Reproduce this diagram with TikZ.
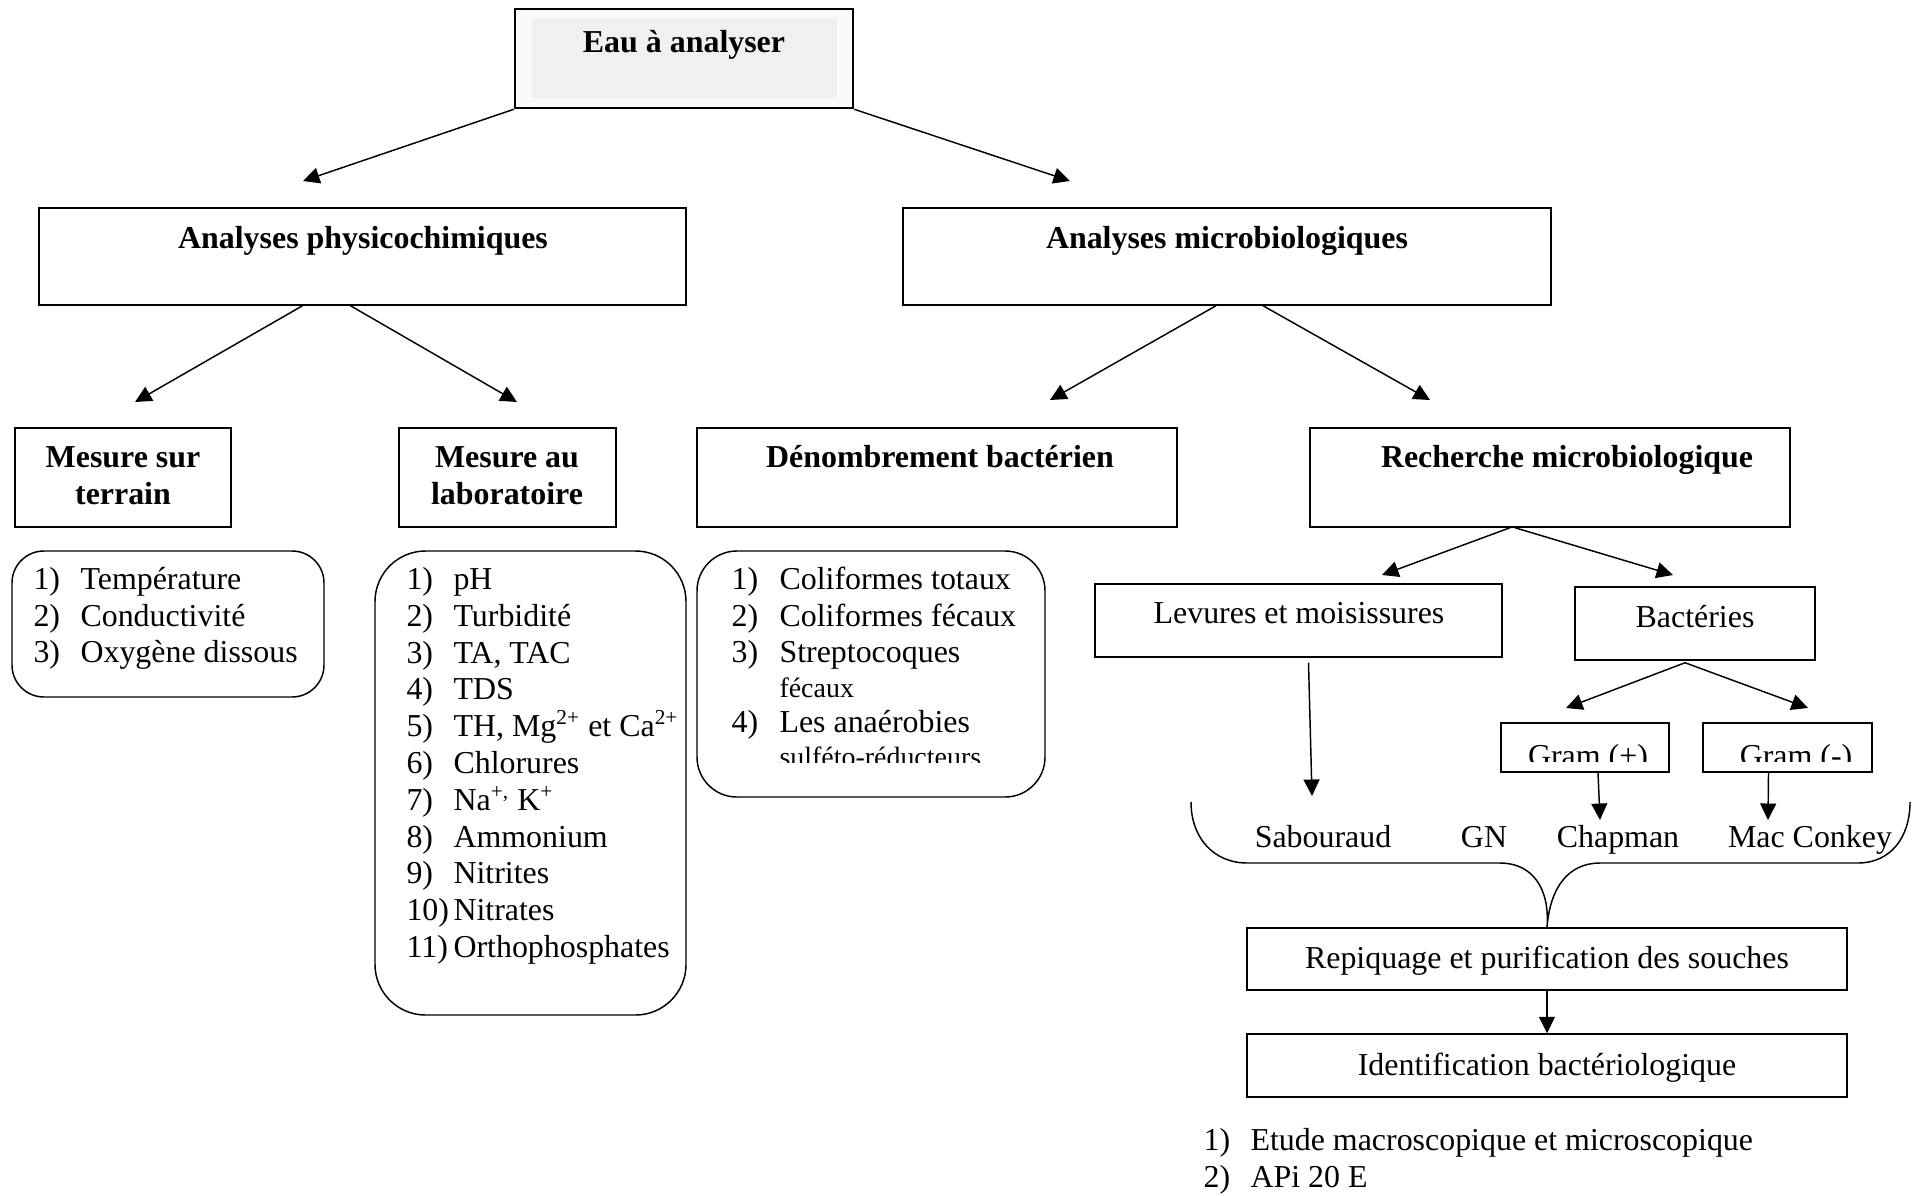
\documentclass[tikz,border=0pt]{standalone}
\usepackage{fontspec}
\setmainfont{Liberation Serif}
\usetikzlibrary{arrows.meta,fit}

\tikzset{
  box/.style={draw, line width=0.55pt, inner sep=0pt},
  listbox/.style={box, rounded corners=#1},
  head/.style={font=\bfseries, inner sep=0pt, anchor=base},
  txt/.style={inner sep=0pt, anchor=base},
  num/.style={inner sep=0pt, anchor=base west},
  arr/.style={line width=0.55pt, -{Triangle[length=6.2pt,width=6pt]}},
}

\begin{document}
\begin{tikzpicture}[x=0.376pt, y=-0.376pt]
            \useasboundingbox (0,0) rectangle (1915,1195);
            {\fontsize{12pt}{13.8pt}\selectfont

            % Drawing box Eau a analyser
            \node [box, line width=1pt, fill=black!2, fit={(515,9) (853,108)}] (eau) {};%
            \fill [black!6] (532,18) rectangle (837,98);%
            \node [head] (eautext) at (684,52) {Eau à analyser};%

            % Drawing boxes of the second row
            \node [box, fit={(39,208) (686,305)}] (physico) {};%
            \node [head] (physicotext) at (363,248) {Analyses physicochimiques};%
            \node [box, fit={(903,208) (1551,305)}] (micro) {};%
            \node [head] (microtext) at (1227,248) {Analyses microbiologiques};%

            % Drawing boxes of the third row
            \node [box, fit={(15,428) (231,527)}] (terrain) {};%
            \node [head] (terraintext) at (123,467) {Mesure sur};%
            \node [head] (terraintextb) at (123,504) {terrain};%
            \node [box, fit={(399,428) (616,527)}] (labo) {};%
            \node [head] (labotext) at (507,467) {Mesure au};%
            \node [head] (labotextb) at (507,504) {laboratoire};%
            \node [box, fit={(697,428) (1177,527)}] (denomb) {};%
            \node [head] (denombtext) at (940,467) {Dénombrement bactérien};%
            \node [box, fit={(1310,428) (1790,527)}] (recherche) {};%
            \node [head] (recherchetext) at (1567,467) {Recherche microbiologique};%

            % Drawing list Mesure sur terrain
            \node [listbox=12pt, fit={(12,551) (324,697)}] (listterrain) {};%
            \node [num] (terrain1n) at (33,589) {1)};%
            \node [num] (terrain1) at (80,589) {Température};%
            \node [num] (terrain2n) at (33,626) {2)};%
            \node [num] (terrain2) at (80,626) {Conductivité};%
            \node [num] (terrain3n) at (33,662) {3)};%
            \node [num] (terrain3) at (80,662) {Oxygène dissous};%

            % Drawing list Mesure au laboratoire
            \node [listbox=19pt, fit={(375,551) (686,1015)}] (listlabo) {};%
            \node [num] (labo1n) at (406,589) {1)};%
            \node [num] (labo1) at (453,589) {pH};%
            \node [num] (labo2n) at (406,626) {2)};%
            \node [num] (labo2) at (453,626) {Turbidité};%
            \node [num] (labo3n) at (406,663) {3)};%
            \node [num] (labo3) at (453,663) {TA, TAC};%
            \node [num] (labo4n) at (406,699) {4)};%
            \node [num] (labo4) at (453,699) {TDS};%
            \node [num] (labo5n) at (406,736) {5)};%
            \node [num] (labo5) at (453,736) {TH, Mg\textsuperscript{2+} et Ca\textsuperscript{2+}};%
            \node [num] (labo6n) at (406,773) {6)};%
            \node [num] (labo6) at (453,773) {Chlorures};%
            \node [num] (labo7n) at (406,810) {7)};%
            \node [num] (labo7) at (453,810) {Na\textsuperscript{+,} K\textsuperscript{+}};%
            \node [num] (labo8n) at (406,847) {8)};%
            \node [num] (labo8) at (453,847) {Ammonium};%
            \node [num] (labo9n) at (406,883) {9)};%
            \node [num] (labo9) at (453,883) {Nitrites};%
            \node [num] (labo10n) at (406,920) {10)};%
            \node [num] (labo10) at (453,920) {Nitrates};%
            \node [num] (labo11n) at (406,957) {11)};%
            \node [num] (labo11) at (453,957) {Orthophosphates};%

            % Drawing list Denombrement bacterien
            \node [listbox=15pt, fit={(697,551) (1045,797)}] (listdenomb) {};%
            \node [num] (denomb1n) at (731,589) {1)};%
            \node [num] (denomb1) at (779,589) {Coliformes totaux};%
            \node [num] (denomb2n) at (731,626) {2)};%
            \node [num] (denomb2) at (779,626) {Coliformes fécaux};%
            \node [num] (denomb3n) at (731,662) {3)};%
            \node [num] (denomb3) at (779,662) {Streptocoques};%
            \node [num, font=\fontsize{10.5pt}{12pt}\selectfont] (denomb3b) at (779,697) {fécaux};%
            \node [num] (denomb4n) at (731,732) {4)};%
            \node [num] (denomb4) at (779,732) {Les anaérobies};%
            \begin{scope}
            \clip (700,740) rectangle (1040,762);%
            \node [num, font=\fontsize{10.5pt}{12pt}\selectfont] (denomb4b) at (779,766) {sulféto-réducteurs};%
            \end{scope}

            % Drawing boxes of Recherche microbiologique
            \node [box, fit={(1095,584) (1502,657)}] (levures) {};%
            \node [txt] (levurestext) at (1299,623) {Levures et moisissures};%
            \node [box, fit={(1575,587) (1815,660)}] (bacteries) {};%
            \node [txt] (bacteriestext) at (1695,627) {Bactéries};%
            \node [box, fit={(1501,723) (1669,772)}] (gramplus) {};%
            \node [box, fit={(1703,723) (1872,772)}] (grammoins) {};%
            \begin{scope}
            \clip (1501,723) rectangle (1872,761);%
            \node [txt] (gramplustext) at (1588,766) {Gram (+)};%
            \node [txt] (grammoinstext) at (1796,766) {Gram (-)};%
            \end{scope}

            % Marking culture media
            \node [txt] (sab) at (1323,847) {Sabouraud};%
            \node [txt] (gn) at (1484,847) {GN};%
            \node [txt] (chapman) at (1618,847) {Chapman};%
            \node [txt] (macconkey) at (1810,847) {Mac Conkey};%

            % Drawing boxes of the last steps
            \node [box, fit={(1247,928) (1847,990)}] (repiquage) {};%
            \node [txt] (repiquagetext) at (1547,968) {Repiquage et purification des souches};%
            \node [box, fit={(1247,1034) (1847,1097)}] (identif) {};%
            \node [txt] (identiftext) at (1547,1075) {Identification bactériologique};%
            \node [num] (identif1n) at (1203,1150) {1)};%
            \node [num] (identif1) at (1250,1150) {Etude macroscopique et microscopique};%
            \node [num] (identif2n) at (1203,1187) {2)};%
            \node [num] (identif2) at (1250,1187) {APi 20 E};%

            % Marking arrow tips
            \coordinate (tophysico) at (303,181);%
            \coordinate (tomicro) at (1070,181);%
            \coordinate (toterrain) at (135,402);%
            \coordinate (tolabo) at (517,402);%
            \coordinate (todenomb) at (1050,400);%
            \coordinate (torecherche) at (1430,400);%
            \coordinate (tolevures) at (1382,575);%
            \coordinate (tobacteries) at (1673,575);%
            \coordinate (tosab) at (1312,796);%
            \coordinate (togramplus) at (1566,708);%
            \coordinate (togrammoins) at (1808,708);%
            \coordinate (tochapman) at (1600,820);%
            \coordinate (tomacconkey) at (1768,820);%

            % Drawing arrows
            \draw [arr] (eau.south west) -- (tophysico);%
            \draw [arr] (eau.south east) -- (tomicro);%
            \draw [arr] ([shift={(-60,0)}]physico.south) -- (toterrain);%
            \draw [arr] ([shift={(-12,0)}]physico.south) -- (tolabo);%
            \draw [arr] ([shift={(-11,0)}]micro.south) -- (todenomb);%
            \draw [arr] ([shift={(36,0)}]micro.south) -- (torecherche);%
            \draw [arr] ([shift={(-40,0)}]recherche.south) -- (tolevures);%
            \draw [arr] ([shift={(-35,0)}]recherche.south) -- (tobacteries);%
            \draw [arr] ([shift={(10,5)}]levures.south) -- (tosab);%
            \draw [arr] ([shift={(-10,2)}]bacteries.south) -- (togramplus);%
            \draw [arr] ([shift={(-10,2)}]bacteries.south) -- (togrammoins);%
            \draw [arr] ([shift={(13,0)}]gramplus.south) -- (tochapman);%
            \draw [arr] ([shift={(-19,0)}]grammoins.south) -- (tomacconkey);%
            \draw [arr] (repiquage.south) -- (identif.north);%

            % Drawing brace over the culture media
            \draw [line width=0.55pt] (1191,802) .. controls (1191,838) and (1214,863) .. (1247,863) -- (1500,863) .. controls (1532,863) and (1550,888) .. (repiquage.north) .. controls (1550,888) and (1568,863) .. (1600,863) -- (1858,863) .. controls (1890,863) and (1910,838) .. (1910,802);%
            }
\end{tikzpicture}
\end{document}
